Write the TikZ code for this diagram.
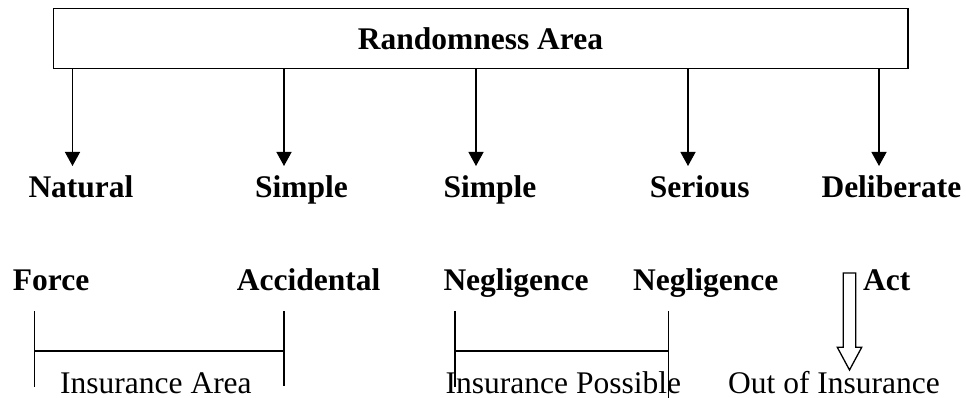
\documentclass[tikz,border=0pt]{standalone}
\usepackage{fontspec}
\setmainfont{Liberation Serif}
\usetikzlibrary{arrows.meta}
\begin{document}
\begin{tikzpicture}[x=1pt,y=-1pt,
  lbl/.style={anchor=base west,inner sep=0pt,font=\fontsize{31.5}{36}\selectfont\bfseries},
  note/.style={anchor=base west,inner sep=0pt,font=\fontsize{31.5}{36}\selectfont},
  conn/.style={line width=1.3pt,-{Triangle[length=14pt,width=15pt]}},
  brk/.style={line width=1.3pt}]
\useasboundingbox (0,0) rectangle (966,398);
% top box
\node[draw,line width=1.6pt,minimum width=854.4pt,minimum height=60pt,inner sep=0pt,
  font=\fontsize{31.5}{36}\selectfont\bfseries] (box) at (480.5,38.6) {Randomness Area};
% first row labels
\node[lbl] (n1) at (28.3,198) {Natural};
\node[lbl] (n2) at (255,198) {Simple};
\node[lbl] (n3) at (443.3,198) {Simple};
\node[lbl] (n4) at (649.7,198) {Serious};
\node[lbl] (n5) at (821.3,198) {Deliberate};
% arrow tips
\coordinate (a1) at (72.5,166);
\coordinate (a2) at (284,166);
\coordinate (a3) at (476,166);
\coordinate (a4) at (688,166);
\coordinate (a5) at (879,166);
\foreach \i in {1,...,5} \draw[conn] (box.south -| a\i) -- (a\i);
% second row labels
\node[lbl] (m1) at (12.7,290) {Force};
\node[lbl] (m2) at (236.7,290) {Accidental};
\node[lbl] (m3) at (443.3,290) {Negligence};
\node[lbl] (m4) at (633,290) {Negligence};
\node[lbl] (m5) at (863,290) {Act};
% bracket 1
\coordinate (b1t) at (34.7,311);
\coordinate (b1b) at (34.7,387);
\coordinate (b2t) at (284,311);
\coordinate (b2b) at (284,386);
\draw[brk] (b1t) -- (b1b);
\draw[brk] (b2t) -- (b2b);
\draw[brk] (b1t |- 0,351) -- (b2t |- 0,351);
% bracket 2
\coordinate (c1t) at (455,311);
\coordinate (c1b) at (455,387);
\coordinate (c2t) at (668.5,311);
\coordinate (c2b) at (668.5,398);
\draw[brk] (c1t) -- (c1b);
\draw[brk] (c2t) -- (c2b);
\draw[brk] (c1t |- 0,351) -- (c2t |- 0,351);
% hollow arrow
\draw[line width=1.3pt,line join=miter] (843.3,273) -- (855.7,273) -- (855.7,347.3) -- (861.7,347.3)
  -- (849.5,370) -- (837.3,347.3) -- (843.3,347.3) -- cycle;
% bottom notes
\node[note] (t1) at (60,393) {Insurance Area};
\node[note] (t2) at (445.5,393) {Insurance Possible};
\node[note] (t3) at (728,393) {Out of Insurance};
\end{tikzpicture}
\end{document}
